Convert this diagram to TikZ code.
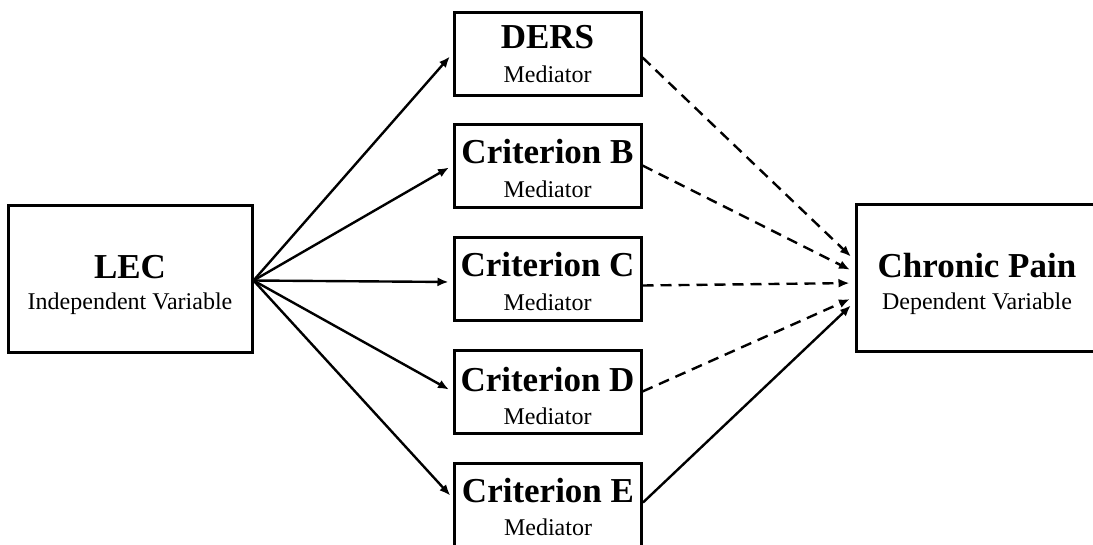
\documentclass[tikz,border=0pt]{standalone}
\usepackage{fontspec}
\setmainfont{Liberation Serif}
\usetikzlibrary{arrows.meta}
\begin{document}
\begin{tikzpicture}[x=1pt,y=-1pt,
  box/.style={draw, line width=3pt, inner sep=0pt},
  med/.style={box, minimum width=187pt, minimum height=83pt},
  big/.style={box, minimum width=244pt, minimum height=147pt},
  ttl/.style={anchor=base, inner sep=0pt, font=\fontsize{35}{40}\selectfont\bfseries},
  sub/.style={anchor=base, inner sep=0pt, font=\fontsize{24}{28}\selectfont},
  arr/.style={line width=2.4pt, -{Latex[length=11pt,width=9pt]}, shorten >=4pt},
  darr/.style={arr, dash pattern=on 11pt off 7pt, shorten >=5pt},
  sarr/.style={arr, shorten >=5pt}]
\clip (0,0) rectangle (1093,544);
% boxes
\node[big] (lec) at (130,278.5) {};
\node[big, minimum width=242pt] (cp) at (977,277.5) {};
\node[med] (ders) at (547.5,53.5) {};
\node[med] (cb) at (547.5,165.5) {};
\node[med] (cc) at (547.5,278.5) {};
\node[med] (cd) at (547.5,391.5) {};
\node[med] (ce) at (548,504.5) {};
% texts
\node[ttl] (lecT) at (130,278) {LEC};
\node[sub] (lecS) at (130,309) {Independent Variable};
\node[ttl] (cpT) at (977,277) {Chronic Pain};
\node[sub] (cpS) at (977,309) {Dependent Variable};
\node[ttl] (dersT) at (547.5,48) {DERS};
\node[sub] (dersS) at (547.5,82) {Mediator};
\node[ttl] (cbT) at (547.5,163) {Criterion B};
\node[sub] (cbS) at (547.5,197) {Mediator};
\node[ttl] (ccT) at (547.5,276) {Criterion C};
\node[sub] (ccS) at (547.5,310) {Mediator};
\node[ttl] (cdT) at (547.5,391) {Criterion D};
\node[sub] (cdS) at (547.5,424) {Mediator};
\node[ttl] (ceT) at (548,502) {Criterion E};
\node[sub] (ceS) at (548,535) {Mediator};
% connectors
\coordinate (src) at ([yshift=-2pt]lec.east);
\draw[arr] (src) -- (ders.west);
\draw[arr] (src) -- (cb.west);
\draw[arr] (src) -- ([yshift=-3.5pt]cc.west);
\draw[arr] (src) -- (cd.west);
\draw[arr] (src) -- ([yshift=6pt]ce.west);
\draw[darr] ([yshift=-4pt]ders.east) -- ([yshift=17.5pt]cp.west);
\draw[darr] (cb.east) -- ([yshift=5.5pt]cp.west);
\draw[darr] ([yshift=-7pt]cc.east) -- ([yshift=-5.5pt]cp.west);
\draw[darr] (cd.east) -- ([yshift=-19.5pt]cp.west);
\draw[sarr] ([yshift=2pt]ce.east) -- ([yshift=-24.5pt]cp.west);
\end{tikzpicture}
\end{document}
